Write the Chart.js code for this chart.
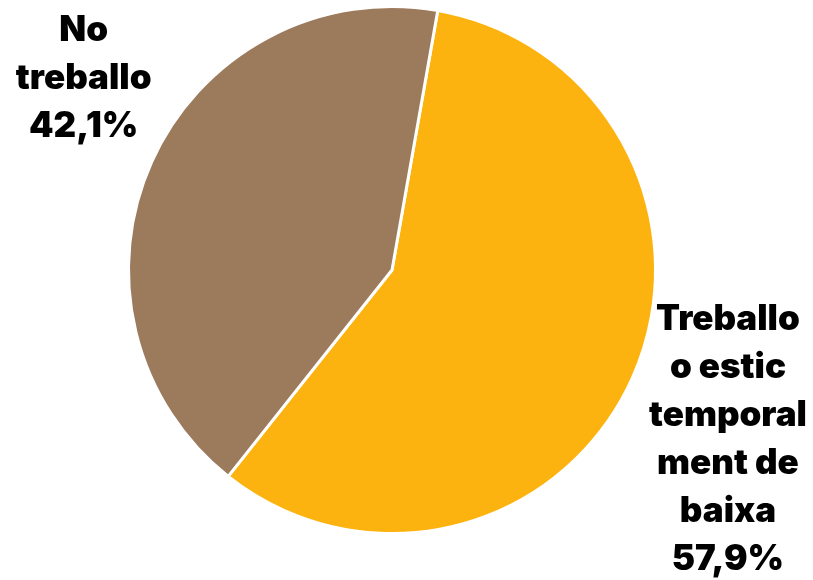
<!DOCTYPE html>
<html>
<head>
<meta charset="utf-8">
<script src="https://cdn.jsdelivr.net/npm/chart.js@4"></script>
<style>
  html, body { margin: 0; padding: 0; background: #fff; }
  #wrap { width: 813px; height: 580px; }
</style>
</head>
<body>
<div id="wrap"><canvas id="myChart"></canvas></div>
<script>
// ######### dades del pastís
// ###########################################

const categories = ['Treballo o estic temporalment de baixa', 'No treballo'];
const values = [57.9, 42.1];
const labelLines = [
    ['Treballo', 'o estic', 'temporal', 'ment de', 'baixa', '57,9%'],
    ['No', 'treballo', '42,1%']
];
const colors = ['#FDB30F', '#9C7A5C'];

// posicio de cada etiqueta respecte al centre (en radis)
const labelPos = [
    { dx: 1.275, dy: 0.645 },
    { dx: -1.17, dy: -0.725 }
];

const labelPlugin = {
    id: 'etiquetes',
    afterDraw(chart) {
        const ctx = chart.ctx;
        const arc = chart.getDatasetMeta(0).data[0];
        const cx = arc.x, cy = arc.y, r = arc.outerRadius;
        ctx.save();
        ctx.font = '900 35px Inter';
        ctx.fillStyle = '#000';
        ctx.textAlign = 'center';
        ctx.textBaseline = 'middle';
        const lh = 48;
        labelLines.forEach((lines, i) => {
            const x = cx + labelPos[i].dx * r;
            const y0 = cy + labelPos[i].dy * r - (lines.length - 1) * lh / 2;
            lines.forEach((t, j) => ctx.fillText(t, x, y0 + j * lh));
        });
        ctx.restore();
    }
};

const myChart = document.getElementById('myChart');

if(myChart) {
    var ctx = myChart.getContext('2d');
    var chart = new Chart(ctx, {
        type: 'pie',
        data: {
            labels: categories,
            datasets: [{
                data: values,
                backgroundColor: colors,
                borderColor: '#ffffff',
                borderWidth: 3
            }]
        },
        options: {
            responsive: true,
            maintainAspectRatio: false,
            animation: false,
            rotation: 10,
            layout: { padding: { top: 5, bottom: 45, left: 0, right: 29 } },
            plugins: {
                legend: { display: false },
                tooltip: { enabled: false }
            }
        },
        plugins: [labelPlugin]
    });
}
</script>
</body>
</html>
